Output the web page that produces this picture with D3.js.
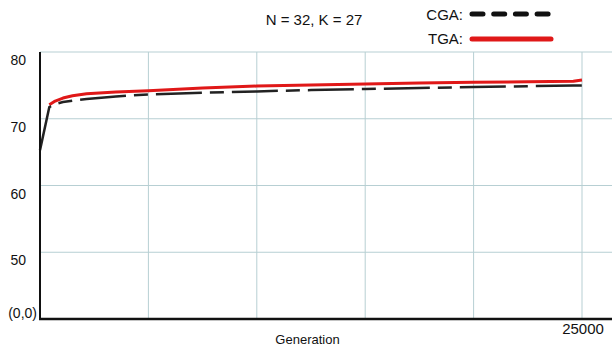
<!DOCTYPE html>
<html>
<head>
<meta charset="utf-8">
<script src="https://cdn.jsdelivr.net/npm/d3@7"></script>
<style>
  html, body { margin: 0; padding: 0; background: #fff; }
  svg { display: block; font-family: "Liberation Sans", Arial, sans-serif; }
</style>
</head>
<body>
<svg id="chart" width="612" height="350"></svg>
<script>
// Mean fitness per generation for the two GA variants
const cgaGenerations = [0, 430, 700, 1060, 1500, 2150, 3500, 5000, 7500, 10000, 12500, 15000, 17500, 20000, 22500, 24600, 25000];
const cgaValues      = [65.3, 71.75, 72.2, 72.5, 72.72, 72.95, 73.35, 73.65, 73.9, 74.1, 74.3, 74.45, 74.6, 74.75, 74.88, 74.97, 75.0];
const tgaGenerations = [430, 700, 1060, 1500, 2150, 3500, 5000, 7500, 10000, 12500, 15000, 17500, 20000, 22500, 24600, 25000];
const tgaValues      = [72.1, 72.65, 73.1, 73.45, 73.75, 74.0, 74.2, 74.6, 74.9, 75.05, 75.2, 75.35, 75.45, 75.55, 75.62, 75.8];
const yTicks = [50, 60, 70, 80];
const xGrid = [5000, 10000, 15000, 20000, 25000];

const svg = d3.select("#chart");
const x = d3.scaleLinear().domain([0, 25000]).range([40, 582]);
const y = d3.scaleLinear().domain([40, 80]).range([319, 52]);

const gridColor = "#b7cfd3";

// horizontal grid
svg.append("g").selectAll("line").data(yTicks).join("line")
  .attr("x1", 40).attr("x2", 612)
  .attr("y1", d => y(d)).attr("y2", d => y(d))
  .attr("stroke", gridColor).attr("stroke-width", 1);

// vertical grid
svg.append("g").selectAll("line").data(xGrid).join("line")
  .attr("x1", d => x(d)).attr("x2", d => x(d))
  .attr("y1", y(80)).attr("y2", y(40))
  .attr("stroke", gridColor).attr("stroke-width", 1);

// y tick labels
svg.append("g").selectAll("text").data(yTicks).join("text")
  .attr("x", 26).attr("y", d => y(d) + 13)
  .attr("text-anchor", "end").attr("font-size", 14).attr("fill", "#111")
  .text(d => d);

svg.append("text").attr("x", 37).attr("y", 318)
  .attr("text-anchor", "end").attr("font-size", 14).attr("fill", "#111")
  .text("(0,0)");

// series
const line = (gens, vals) => d3.line()
  .x((d, i) => x(gens[i]))
  .y(d => y(d))
  .curve(d3.curveLinear)(vals);

svg.append("path").attr("d", line(tgaGenerations, tgaValues))
  .attr("fill", "none").attr("stroke", "#e01818").attr("stroke-width", 3)
  .attr("stroke-linejoin", "round");

svg.append("path").attr("d", line(cgaGenerations, cgaValues))
  .attr("fill", "none").attr("stroke", "#222").attr("stroke-width", 2.5)
  .attr("stroke-linejoin", "round")
  .attr("stroke-dasharray", "46,8,14,8");

// axes lines
svg.append("line").attr("x1", 40).attr("x2", 40).attr("y1", 52).attr("y2", 320)
  .attr("stroke", "#111").attr("stroke-width", 2);
svg.append("line").attr("x1", 39).attr("x2", 612).attr("y1", 319).attr("y2", 319)
  .attr("stroke", "#111").attr("stroke-width", 2.5);

// x labels
svg.append("text").attr("x", 583).attr("y", 334)
  .attr("text-anchor", "middle").attr("font-size", 15).attr("fill", "#111")
  .text("25000");
svg.append("text").attr("x", 307.5).attr("y", 344)
  .attr("text-anchor", "middle").attr("font-size", 13).attr("fill", "#111")
  .text("Generation");

// title
svg.append("text").attr("x", 314).attr("y", 25)
  .attr("text-anchor", "middle").attr("font-size", 15).attr("fill", "#111")
  .text("N = 32, K = 27");

// legend
svg.append("text").attr("x", 463).attr("y", 20)
  .attr("text-anchor", "end").attr("font-size", 15).attr("fill", "#111").text("CGA:");
svg.append("line").attr("x1", 472).attr("x2", 551).attr("y1", 14).attr("y2", 14)
  .attr("stroke", "#111").attr("stroke-width", 5).attr("stroke-linecap", "round")
  .attr("stroke-dasharray", "11,10.7");
svg.append("text").attr("x", 463).attr("y", 44)
  .attr("text-anchor", "end").attr("font-size", 15).attr("fill", "#111").text("TGA:");
svg.append("line").attr("x1", 472).attr("x2", 551).attr("y1", 39).attr("y2", 39)
  .attr("stroke", "#e01818").attr("stroke-width", 5).attr("stroke-linecap", "round");
</script>
</body>
</html>
